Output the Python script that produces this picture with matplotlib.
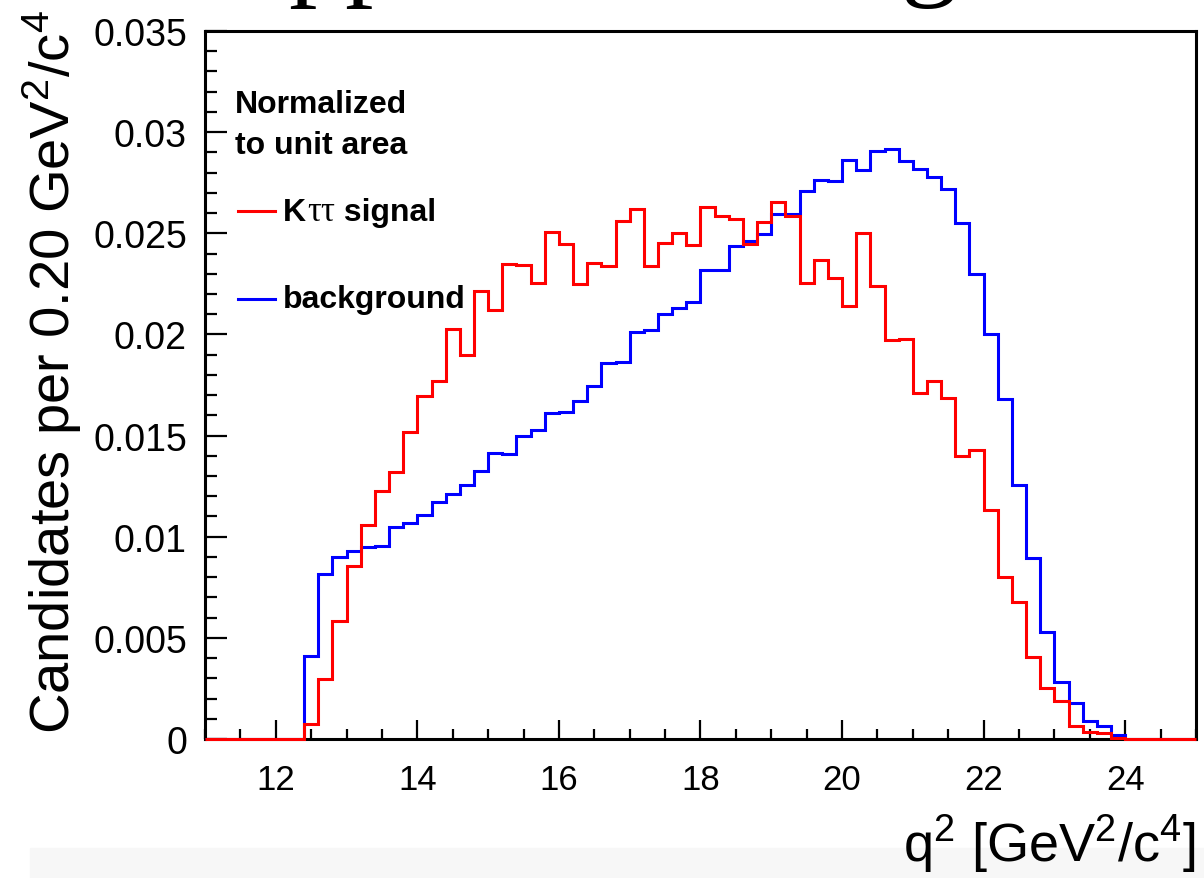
import numpy as np
import matplotlib
matplotlib.use('Agg')
import matplotlib.pyplot as plt
from matplotlib.ticker import MultipleLocator, FuncFormatter
from matplotlib import font_manager
from matplotlib.lines import Line2D
from matplotlib.patches import Rectangle

# q^2 histogram, 0.2 GeV^2/c^4 bins from 11 to 25 (values in units of 1e-3)
bin_edges = np.arange(11.0, 25.0001, 0.2)

signal = [0, 0, 0, 0, 0, 0, 0,
          0.73, 2.97, 5.83, 8.57, 10.58, 12.24, 13.21, 15.16, 16.94, 17.71,
          20.27, 18.98, 22.16, 21.22, 23.48, 23.43, 22.54, 25.05, 24.47, 22.49,
          23.51, 23.36, 25.62, 26.20, 23.36, 24.52, 25.00, 24.42, 26.28, 25.87,
          25.70, 24.47, 25.57, 26.56, 25.87, 22.54, 23.70, 22.77, 21.42, 25.03,
          22.38, 19.73, 19.77, 17.09, 17.71, 16.84, 13.97, 14.29, 11.34, 7.99,
          6.76, 4.04, 2.52, 1.86, 0.66, 0.33, 0.28, 0.05,
          0, 0, 0, 0, 0]

background = [0, 0, 0, 0, 0, 0, 0,
              4.09, 8.14, 8.98, 9.28, 9.50, 9.52, 10.46, 10.66, 11.05, 11.71,
              12.11, 12.56, 13.26, 14.14, 14.09, 14.96, 15.29, 16.10, 16.18, 16.72,
              17.47, 18.59, 18.65, 20.10, 20.23, 21.00, 21.29, 21.58, 23.20, 23.20,
              24.35, 24.60, 24.96, 25.95, 25.95, 27.10, 27.64, 27.57, 28.63, 28.14,
              29.06, 29.17, 28.55, 28.18, 27.77, 27.19, 25.50, 22.99, 20.02, 16.80,
              12.57, 8.95, 5.27, 2.83, 1.76, 0.91, 0.63, 0.20,
              0, 0, 0, 0, 0]

signal = np.array(signal) * 1e-3
background = np.array(background) * 1e-3

avail = {f.name for f in font_manager.fontManager.ttflist}
sans = 'Liberation Sans'
plt.rcParams['font.family'] = [sans, 'DejaVu Sans']
plt.rcParams['mathtext.fontset'] = 'custom'
plt.rcParams['mathtext.rm'] = sans
plt.rcParams['mathtext.it'] = sans + ':italic'
plt.rcParams['mathtext.bf'] = sans + ':bold'

W, H = 1204, 879
fig = plt.figure(figsize=(W / 100, H / 100), dpi=100)
fig.patch.set_facecolor('white')
renderer = fig.canvas.get_renderer()

# light slide band at the bottom
fig.patches.append(Rectangle((30 / W, 0), 1, 30 / H, transform=fig.transFigure,
                             color='#f7f7f7', zorder=-5))

# bottom of the slide title, cut off by the top edge
fig.text(288 / W, 1 + 15 / H, 'pp', va='baseline', fontsize=82,
         family=['Liberation Serif', 'DejaVu Serif'])
fig.text(900 / W, 1 + 15 / H, 'g', va='baseline', fontsize=82,
         family=['Liberation Serif', 'DejaVu Serif'])

ax = fig.add_axes([205 / W, 1 - 740 / H, (1196 - 205) / W, (740 - 32) / H])

ax.stairs(background, bin_edges, baseline=None, color='#0000ff', lw=2.2, zorder=3)
ax.stairs(signal, bin_edges, baseline=None, color='#ff0000', lw=2.2, zorder=4, clip_on=False)

ax.set_xlim(11, 25)
ax.set_ylim(0, 0.035)

ax.xaxis.set_major_locator(MultipleLocator(2))
ax.xaxis.set_minor_locator(MultipleLocator(0.5))
ax.yaxis.set_major_locator(MultipleLocator(0.005))
ax.yaxis.set_minor_locator(MultipleLocator(0.001))
ax.xaxis.set_major_formatter(FuncFormatter(lambda v, p: '%d' % round(v)))
ax.yaxis.set_major_formatter(FuncFormatter(lambda v, p: '0' if abs(v) < 1e-9 else '%g' % round(v, 4)))

ax.tick_params(which='both', direction='in', top=False, right=False, width=1.6, color='black')
ax.tick_params(axis='x', which='major', length=13.5, pad=17, labelsize=25)
ax.tick_params(axis='x', which='minor', length=7)
ax.tick_params(axis='y', which='major', length=16, pad=13, labelsize=27)
ax.tick_params(axis='y', which='minor', length=8.5)
for s in ax.spines.values():
    s.set_linewidth(2.2)

# axis titles
fig.text(1196 / W, 1 - 862 / H, r'q$^{2}$ [GeV$^{2}$/c$^{4}$]', ha='right', va='baseline',
         fontsize=39)

# y title: the reference uses a condensed face, so fit the size to its length (~725 px)
ylab = r'Candidates per 0.20 GeV$^{2}$/c$^{4}$'
if 'Liberation Sans Narrow' in avail:
    yfam = ['Liberation Sans Narrow', sans]
elif 'DejaVu Sans Condensed' in avail:
    yfam = ['DejaVu Sans Condensed', sans]
else:
    yfam = [sans]
yt = fig.text(52 / W, 1 - 372 / H, ylab, rotation=90, ha='center', va='center',
              fontsize=50, family=yfam)
ext = yt.get_window_extent(renderer)
yt.set_fontsize(50 * 725 / ext.height)

# legend block
fig.text(235 / W, 1 - 113 / H, 'Normalized', fontsize=23, fontweight='bold', va='baseline')
fig.text(235 / W, 1 - 154 / H, 'to unit area', fontsize=23, fontweight='bold', va='baseline')

fig.add_artist(Line2D([238 / W, 275 / W], [1 - 212 / H, 1 - 212 / H], color='#ff0000', lw=2.2))
fig.add_artist(Line2D([238 / W, 275 / W], [1 - 300 / H, 1 - 300 / H], color='#0000ff', lw=2.2))

t1 = fig.text(283 / W, 1 - 221 / H, 'K', fontsize=23, fontweight='bold', va='baseline')
bb = t1.get_window_extent(renderer)
t2 = fig.text(bb.x1 / W + 0.001, 1 - 221 / H, 'ττ', fontsize=25, va='baseline',
              family=['Liberation Serif', 'DejaVu Serif'])
bb = t2.get_window_extent(renderer)
fig.text(bb.x1 / W, 1 - 221 / H, ' signal', fontsize=23, fontweight='bold', va='baseline')
fig.text(283 / W, 1 - 308 / H, 'background', fontsize=23, fontweight='bold', va='baseline')

fig.savefig('out.png', dpi=100)
